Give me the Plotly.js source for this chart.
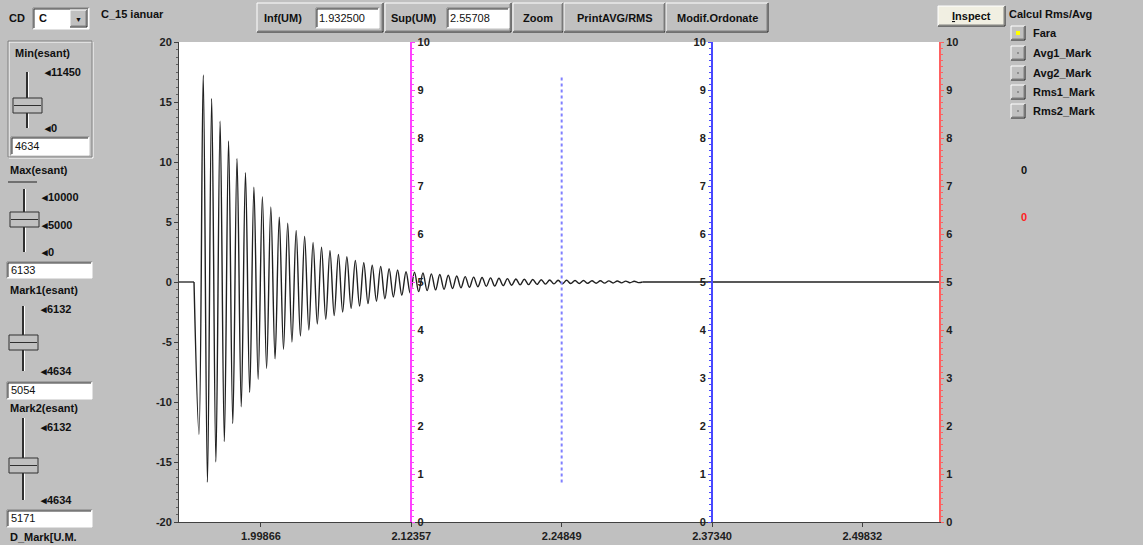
<!DOCTYPE html>
<html><head><meta charset="utf-8">
<script src="https://cdn.plot.ly/plotly-3.0.1.min.js"></script>
<style>html,body{margin:0;padding:0;background:#c0c0c0;overflow:hidden}</style>
</head><body><div id="chart" style="width:1143px;height:545px"></div>
<script>
// ---------- data ----------
const baselineX = [1.93053, 1.94300, null, 2.31576, 2.56202];
const baselineY = [0, 0, null, 0, 0];
const signalX = [1.94300,
 1.94715,1.95066,1.95417,1.95768,1.96119,1.96470,1.96821,1.97172,1.97523,1.97874,
 1.98226,1.98577,1.98928,1.99279,1.99630,1.99981,2.00332,2.00683,2.01034,2.01385,
 2.01736,2.02087,2.02438,2.02789,2.03140,2.03491,2.03842,2.04194,2.04545,2.04896,
 2.05247,2.05598,2.05949,2.06300,2.06651,2.07002,2.07353,2.07704,2.08055,2.08406,
 2.08757,2.09108,2.09459,2.09811,2.10162,2.10513,2.10864,2.11215,2.11566,2.11917,
 2.12268,2.12619,2.12970,2.13321,2.13672,2.14023,2.14374,2.14725,2.15076,2.15428,
 2.15779,2.16130,2.16481,2.16832,2.17183,2.17534,2.17885,2.18236,2.18587,2.18938,
 2.19289,2.19640,2.19991,2.20342,2.20693,2.21045,2.21396,2.21747,2.22098,2.22449,
 2.22800,2.23151,2.23502,2.23853,2.24204,2.24555,2.24906,2.25257,2.25608,2.25959,
 2.26310,2.26662,2.27013,2.27364,2.27715,2.28066,2.28417,2.28768,2.29119,2.29470,
 2.29821,2.30172,2.30523,2.30874,2.31225,
 2.31576];
const signalY = [0,
 -12.7,17.25,-16.7,15.3,-15.0,13.4,-13.3,11.75,-11.8,10.3,
 -10.4,9.1,-9.2,7.9,-8.1,7.1,-7.2,6.25,-6.4,5.4,
 -5.6,4.9,-5.0,4.3,-4.5,3.8,-4.0,3.3,-3.5,2.9,
 -3.1,2.6,-2.8,2.3,-2.5,2.1,-2.2,1.8,-2.0,1.6,
 -1.8,1.4,-1.6,1.3,-1.4,1.1,-1.25,1.0,-1.1,0.86,
 -0.95,0.82,-0.8,0.75,-0.72,0.68,-0.66,0.62,-0.6,0.56,
 -0.54,0.5,-0.48,0.45,-0.44,0.41,-0.4,0.37,-0.36,0.34,
 -0.33,0.31,-0.3,0.28,-0.27,0.25,-0.24,0.23,-0.22,0.21,
 -0.2,0.19,-0.18,0.17,-0.16,0.15,-0.15,0.14,-0.13,0.13,
 -0.12,0.12,-0.11,0.11,-0.1,0.1,-0.09,0.09,-0.08,0.08,
 -0.07,0.07,-0.06,0.06,-0.05,
 0];
const markerX = [2.24849, 2.24849];
const markerY = [-16.7, 17.25];
const xTickVals = [1.99866, 2.12357, 2.24849, 2.37340, 2.49832];
const xTickText = ['1.99866', '2.12357', '2.24849', '2.37340', '2.49832'];
const yLeftTickVals = [-20, -15, -10, -5, 0, 5, 10, 15, 20];
const yLeftTickText = ['-20', '-15', '-10', '-5', '0', '5', '10', '15', '20'];
const xRange = [1.93053, 2.56202];
const yLeftRange = [-20, 20];
const yRightRange = [0, 10];
const mark1X = 2.12357;
const mark2X = 2.37340;
const infValue = '1.932500', supValue = '2.55708';
const sliderFields = ['4634', '6133', '5054', '5171'];
const radioLabels = ['Fara', 'Avg1_Mark', 'Avg2_Mark', 'Rms1_Mark', 'Rms2_Mark'];

// ---------- geometry helpers ----------
const L = 179, R = 939, T = 42, B = 522;
const PX = p => (p - L) / (R - L);
const PY = p => (B - p) / (B - T);
const shapes = [], ann = [];
const FONT = 'Liberation Sans, Arial, sans-serif';
function rect(x0, y0, x1, y1, fill, lc, lw) {
  shapes.push({type: 'rect', xref: 'paper', yref: 'paper', x0: PX(x0), x1: PX(x1), y0: PY(y1), y1: PY(y0),
    fillcolor: fill || 'rgba(0,0,0,0)', line: {color: lc || 'rgba(0,0,0,0)', width: lw === undefined ? 1 : lw}, layer: 'above'});
}
function ln(x0, y0, x1, y1, c, w) {
  shapes.push({type: 'line', xref: 'paper', yref: 'paper', x0: PX(x0), x1: PX(x1), y0: PY(y0), y1: PY(y1),
    line: {color: c, width: w || 1}, layer: 'above'});
}
function raised(x0, y0, x1, y1, fill) {
  rect(x0, y0, x1, y1, fill || '#c0c0c0', null, 0);
  ln(x0, y0, x1, y0, '#ffffff'); ln(x0, y0, x0, y1, '#ffffff');
  ln(x0, y1, x1, y1, '#202020'); ln(x1, y0, x1, y1, '#202020');
  ln(x0 + 1, y1 - 1, x1 - 1, y1 - 1, '#808080'); ln(x1 - 1, y0 + 1, x1 - 1, y1 - 1, '#808080');
}
function sunken(x0, y0, x1, y1, fill) {
  rect(x0, y0, x1, y1, fill || '#ffffff', null, 0);
  ln(x0, y0, x1, y0, '#808080'); ln(x0, y0, x0, y1, '#808080');
  ln(x0 + 1, y0 + 1, x1 - 1, y0 + 1, '#303030'); ln(x0 + 1, y0 + 1, x0 + 1, y1 - 1, '#303030');
  ln(x0, y1, x1, y1, '#ffffff'); ln(x1, y0, x1, y1, '#ffffff');
}
function txt(t, x, y, o) {
  o = o || {};
  ann.push({text: t, xref: 'paper', yref: 'paper', x: PX(x), y: PY(y), xanchor: o.anchor || 'left', yanchor: 'middle',
    showarrow: false, borderpad: 0,
    font: {family: FONT, size: o.size || 11, color: o.color || '#101010', weight: o.weight || 'bold'}});
}

// ---------- top bar ----------
txt('CD', 8, 18);
sunken(33, 8, 89, 29);
raised(70, 10, 87, 27);
txt('▼', 78.5, 19, {anchor: 'center', size: 7});
txt('C', 38, 18);
txt('C_15 ianuar', 100, 14);
raised(257, 3, 383, 32);
txt('Inf(UM)', 263, 18);
sunken(316, 8, 379, 28);
txt(infValue, 318, 18, {weight: 'normal'});
raised(385, 3, 511, 32);
txt('Sup(UM)', 390, 18);
sunken(447, 8, 509, 28);
txt(supValue, 449, 18, {weight: 'normal'});
[['Zoom', 513, 563], ['PrintAVG/RMS', 564, 665], ['Modif.Ordonate', 666, 768]].forEach(b => {
  raised(b[1], 3, b[2], 32);
  txt(b[0], (b[1] + b[2]) / 2, 18, {anchor: 'center'});
});
raised(938, 6, 1005, 26, '#f1efe2');
txt('<span style="text-decoration:underline">I</span>nspect', 971.5, 16, {anchor: 'center'});
txt('Calcul Rms/Avg', 1008, 14);
[33, 53, 73, 92, 111].forEach((c, i) => {
  raised(1011, c - 7, 1025, c + 7);
  if (i === 0) rect(1016, c - 2, 1020, c + 2, '#ffff00', null, 0);
  else rect(1017, c - 1, 1019, c + 1, '#909090', null, 0);
  txt(radioLabels[i], 1032, c);
});
txt('0', 1020, 170);
txt('0', 1020, 217, {color: '#ff2020'});

// ---------- left panel ----------
rect(9, 42, 93, 158, null, '#ffffff', 1);
rect(8, 41, 92, 157, null, '#808080', 1);
txt('Min(esant)', 14, 53);
function slider(x, yTop, yBot, thumbTop, labels) {
  ln(x, yTop, x, yBot, '#303030', 2);
  ln(x + 1.5, yTop, x + 1.5, yBot, '#ffffff', 1);
  rect(x - 14, thumbTop, x + 15, thumbTop + 15, '#c0c0c0', '#303030', 1);
  ln(x - 13, thumbTop + 7.5, x + 14, thumbTop + 7.5, '#303030', 1);
  labels.forEach(l => txt('◂' + l[0], x + 16, l[1]));
}
slider(27, 72, 128, 98, [['11450', 72], ['0', 128]]);
sunken(11, 137, 89, 155);
txt(sliderFields[0], 14, 146, {weight: 'normal'});
txt('Max(esant)', 9, 170);
ln(8, 182, 37, 182, '#707070', 2);
slider(24, 189, 252, 212, [['10000', 197], ['5000', 225], ['0', 252]]);
sunken(7, 262, 92, 278);
txt(sliderFields[1], 10, 270, {weight: 'normal'});
txt('Mark1(esant)', 9, 290);
slider(23, 306, 371, 335, [['6132', 309], ['4634', 371]]);
sunken(7, 382, 92, 399);
txt(sliderFields[2], 10, 390, {weight: 'normal'});
txt('Mark2(esant)', 9, 408);
slider(23, 418, 500, 458, [['6132', 427], ['4634', 500]]);
sunken(7, 510, 92, 527);
txt(sliderFields[3], 10, 518, {weight: 'normal'});
txt('D_Mark[U.M.', 9, 537);

// ---------- axes ----------
const tf = {family: FONT, size: 11, color: '#202020', weight: 'bold'};
const pos1 = (mark1X - xRange[0]) / (xRange[1] - xRange[0]);
const pos2 = (mark2X - xRange[0]) / (xRange[1] - xRange[0]);
function rAxis(color, extra) {
  return Object.assign({range: yRightRange, dtick: 1, tick0: 0, overlaying: 'y', showgrid: false, zeroline: false,
    showline: true, linecolor: color, linewidth: 2, ticks: 'outside', ticklen: 3, tickcolor: color, tickwidth: 1,
    tickfont: tf, fixedrange: true,
    minor: {dtick: 0.125, ticks: 'outside', ticklen: 2, tickcolor: color, showgrid: false}}, extra);
}
const layout = {
  width: 1143, height: 545, autosize: false,
  margin: {l: L, r: 1143 - R, t: T, b: 545 - B, pad: 0},
  paper_bgcolor: '#c0c0c0', plot_bgcolor: '#ffffff',
  showlegend: false,
  xaxis: {range: xRange, tickmode: 'array', tickvals: xTickVals, ticktext: xTickText, showgrid: false, zeroline: false,
    showline: true, linecolor: '#404040', linewidth: 1, ticks: 'outside', ticklen: 4, tickcolor: '#404040',
    tickfont: tf, fixedrange: true},
  yaxis: {range: yLeftRange, tickmode: 'array', tickvals: yLeftTickVals, ticktext: yLeftTickText,
    showgrid: false, zeroline: false, showline: true, linecolor: '#404040',
    ticks: 'outside', ticklen: 4, tickcolor: '#404040', tickfont: tf, fixedrange: true,
    minor: {tickmode: 'linear', tick0: 0, dtick: 0.625, ticks: 'outside', ticklen: 2, tickcolor: '#606060', showgrid: false}},
  yaxis2: rAxis('#ff40ff', {anchor: 'free', position: pos1, side: 'right'}),
  yaxis3: rAxis('#4848ff', {anchor: 'free', position: pos2, side: 'left'}),
  yaxis4: rAxis('#ff6060', {anchor: 'x', side: 'right'}),
  shapes: shapes, annotations: ann
};
const traces = [
  {type: 'scatter', mode: 'lines', x: baselineX, y: baselineY, line: {color: '#202020', width: 1.3}, connectgaps: false, hoverinfo: 'skip'},
  {type: 'scatter', mode: 'lines', x: signalX, y: signalY, line: {color: '#202020', width: 1.4, shape: 'spline', smoothing: 1}, hoverinfo: 'skip'},
  {type: 'scatter', mode: 'lines', x: markerX, y: markerY, line: {color: '#8080ff', width: 2, dash: 'dot'}, hoverinfo: 'skip'},
  {type: 'scatter', mode: 'lines', x: [xRange[0]], y: [null], yaxis: 'y2', hoverinfo: 'skip'},
  {type: 'scatter', mode: 'lines', x: [xRange[0]], y: [null], yaxis: 'y3', hoverinfo: 'skip'},
  {type: 'scatter', mode: 'lines', x: [xRange[0]], y: [null], yaxis: 'y4', hoverinfo: 'skip'}
];
Plotly.newPlot('chart', traces, layout, {displayModeBar: false, staticPlot: true});
</script></body></html>
